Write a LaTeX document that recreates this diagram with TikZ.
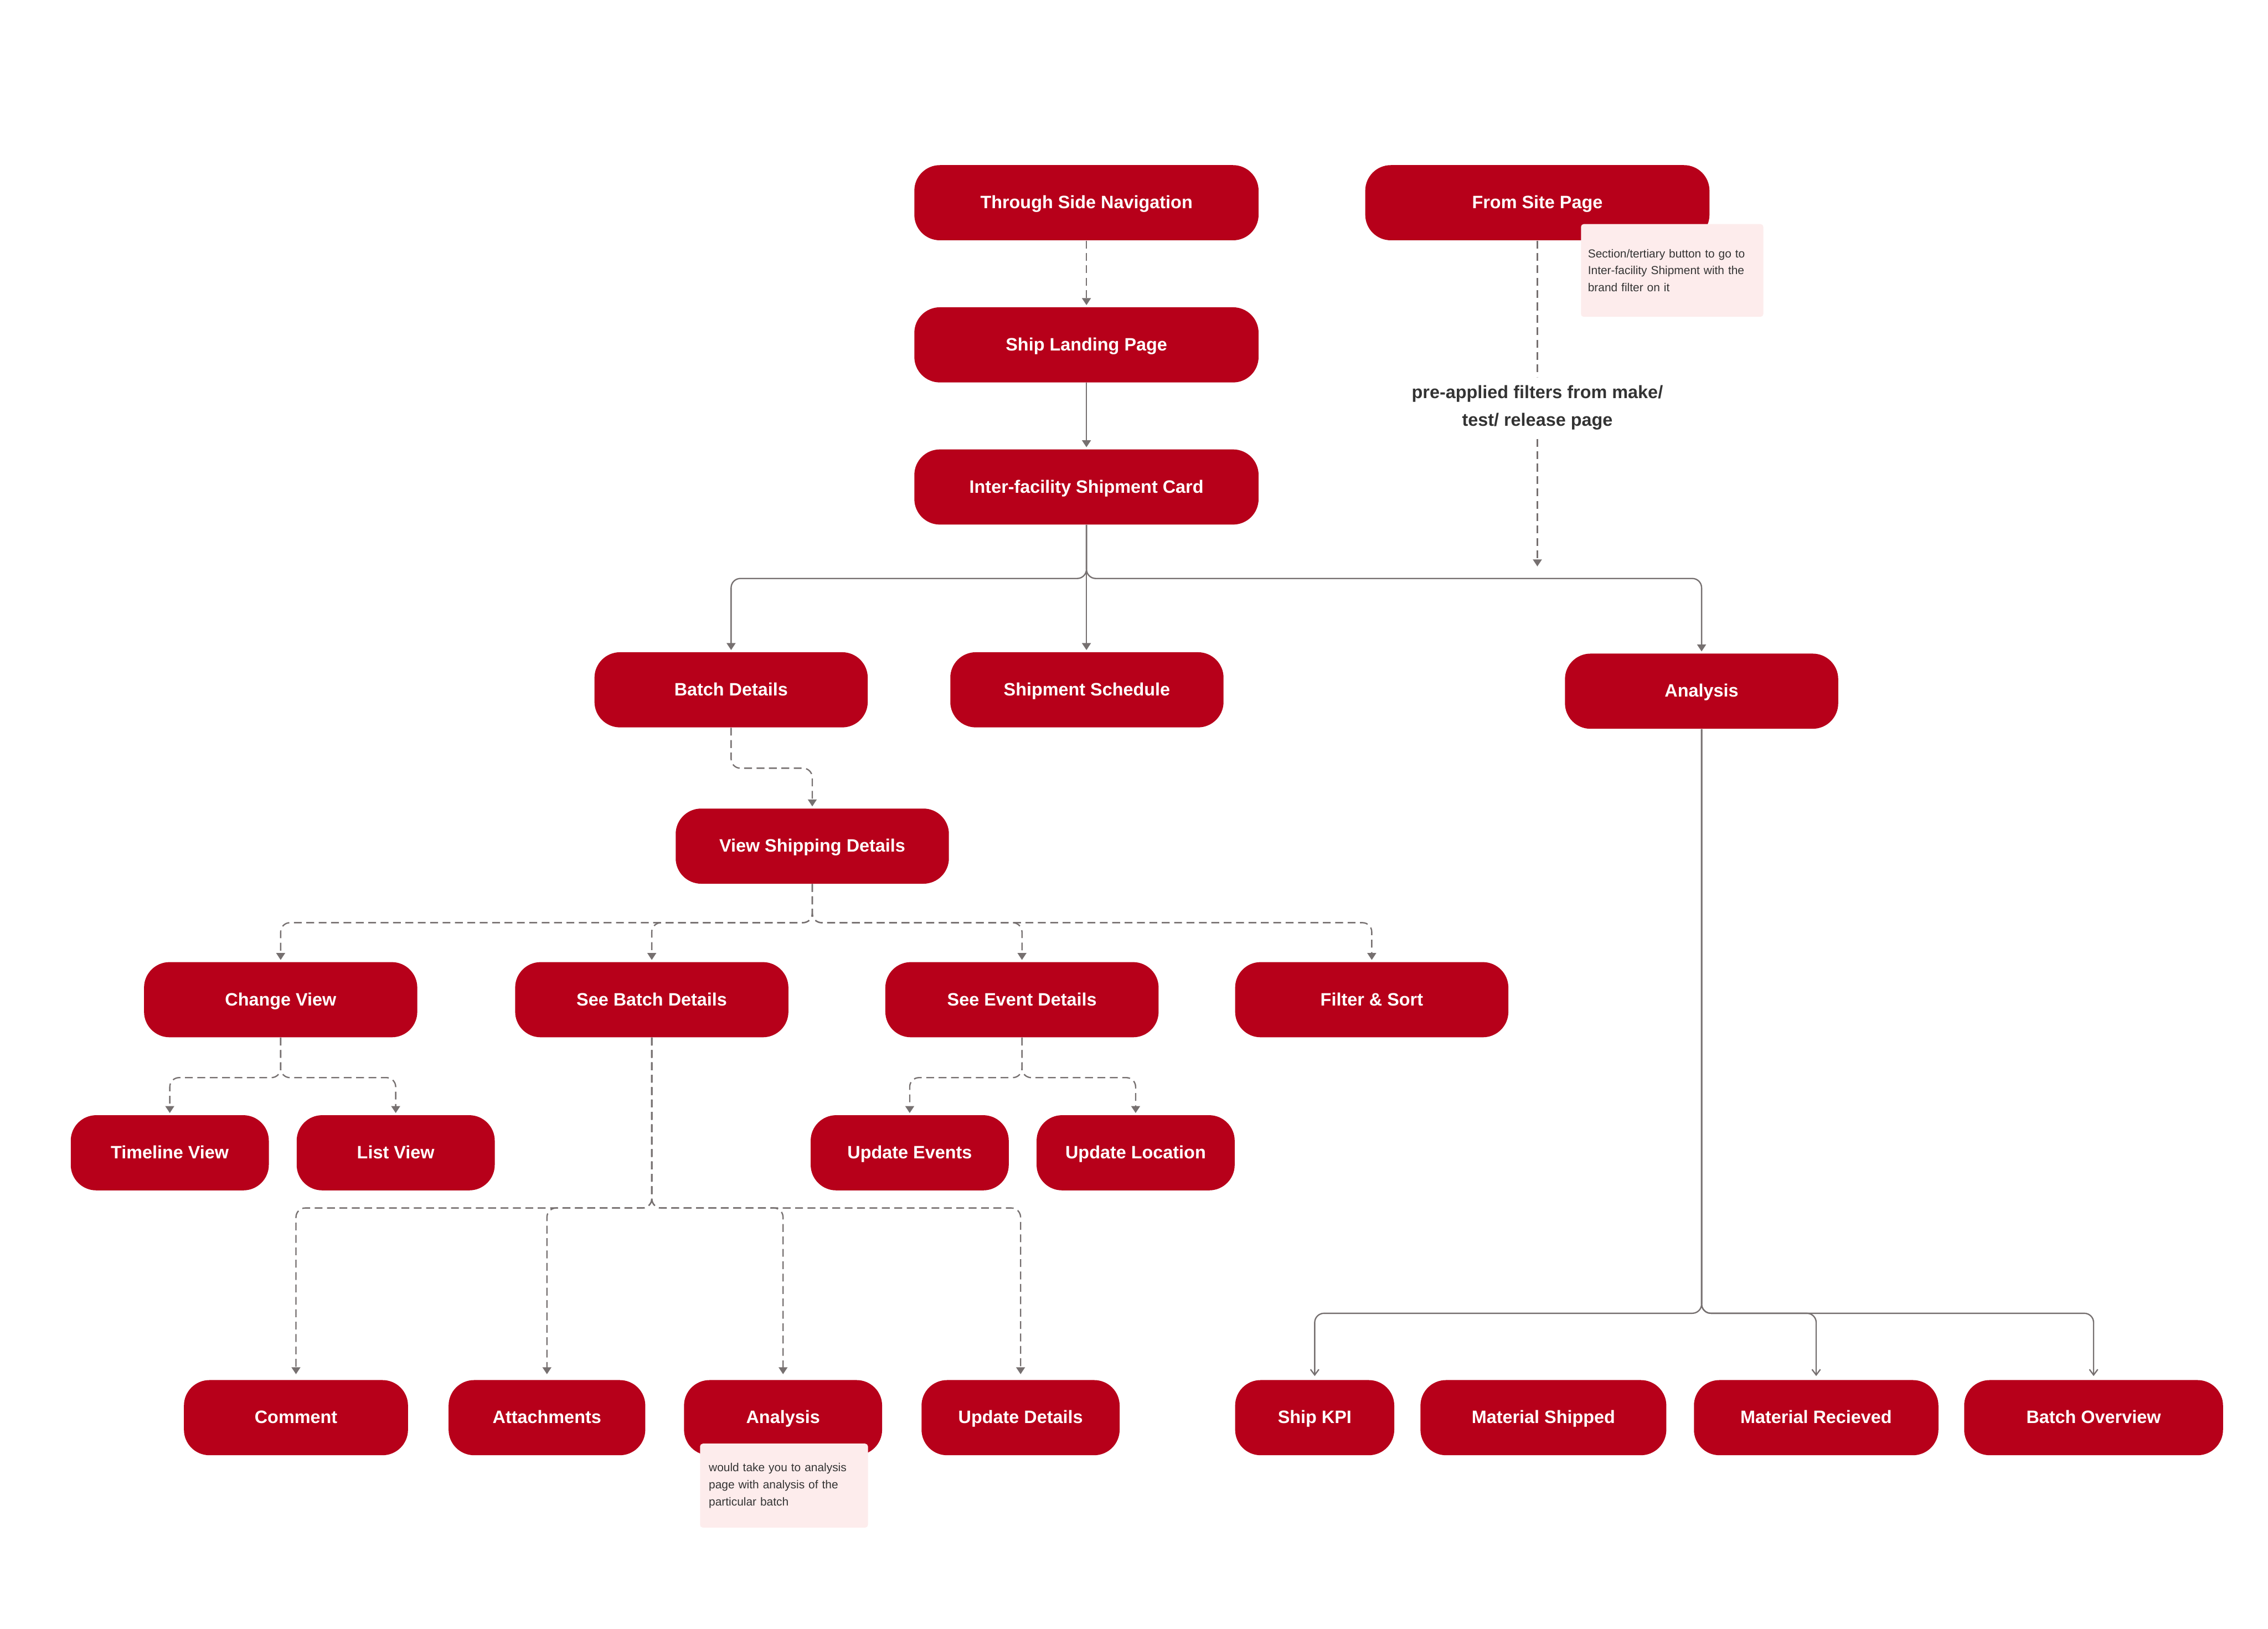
\documentclass[tikz,border=0pt]{standalone}
\usepackage{fontspec}
\setmainfont{Liberation Sans}
\usepackage{xcolor}
\usepackage{tikz}
\usetikzlibrary{arrows.meta, positioning, calc}

\definecolor{brandred}{HTML}{B7001A}
\definecolor{linegray}{HTML}{767070}
\definecolor{notepink}{HTML}{FDECEC}
\definecolor{textdark}{HTML}{333333}

\begin{document}
\begin{tikzpicture}[
    node distance=1.43cm and 1.5cm,
    page/.style={rectangle, rounded corners=0.55cm, fill=brandred, text=white, minimum width=5.89cm, minimum height=1.62cm, text height=0.92em, text depth=0.2em, font=\bfseries\fontsize{11}{13}\selectfont},
    wide/.style={minimum width=7.42cm},
    short/.style={minimum width=4.27cm},
    note/.style={rectangle, rounded corners=0.06cm, fill=notepink, text=textdark, align=left, font=\fontsize{7.1}{10.4}\selectfont},
    arrow/.style={draw=linegray, line width=0.8pt, rounded corners=0.2cm, -{Triangle[width=0.19cm,length=0.15cm]}, shorten >=0.04cm},
    dasharrow/.style={arrow, dash pattern=on 4.8pt off 2.8pt},
    openarrow/.style={draw=linegray, line width=0.8pt, rounded corners=0.2cm, -{Straight Barb[width=0.18cm,length=0.12cm]}, shorten >=0.08cm}
]

\fill[white] (0,0) rectangle (48.89,-35.11);
\useasboundingbox (0,0) rectangle (48.89,-35.11);

% entry points
\node[page, wide] (nav) at (23.42,-4.37) {Through Side Navigation};
\node[page, wide] (site) at (33.14,-4.37) {From Site Page};
\node[page, wide, below=of nav] (landing) {Ship Landing Page};
\node[page, wide, below=of landing] (card) {Inter-facility Shipment Card};

% card sections
\node[page] (batch) at (15.76,-14.87) {Batch Details};
\node[page] (sched) at (23.43,-14.87) {Shipment Schedule};
\node[page] (ana) at (36.68,-14.90) {Analysis};
\node[page] (view) at (17.51,-18.24) {View Shipping Details};

\node[page] (change) at (6.05,-21.55) {Change View};
\node[page] (seebatch) at (14.05,-21.55) {See Batch Details};
\node[page] (seeevent) at (22.03,-21.55) {See Event Details};
\node[page] (filter) at (29.57,-21.55) {Filter \& Sort};

\node[page, short] (timeline) at (3.66,-24.85) {Timeline View};
\node[page, short] (list) at (8.53,-24.85) {List View};
\node[page, short] (upevents) at (19.61,-24.85) {Update Events};
\node[page, short] (uploc) at (24.48,-24.85) {Update Location};

% bottom row
\node[page, minimum width=4.83cm] (comment) at (6.38,-30.56) {Comment};
\node[page, minimum width=4.24cm] (attach) at (11.79,-30.56) {Attachments};
\node[page, short] (anabatch) at (16.88,-30.56) {Analysis};
\node[page, short] (updetails) at (22.00,-30.56) {Update Details};
\node[page, minimum width=3.43cm] (kpi) at (28.34,-30.56) {Ship KPI};
\node[page, minimum width=5.30cm] (shipped) at (33.27,-30.56) {Material Shipped};
\node[page, minimum width=5.27cm] (received) at (39.15,-30.56) {Material Recieved};
\node[page, minimum width=5.58cm] (overview) at (45.13,-30.56) {Batch Overview};

% notes
\node[note, text width=3.63cm, minimum height=2cm, inner xsep=0.15cm] (sitenote) at (36.045,-5.83) {Section/tertiary button to go to\\Inter-facility Shipment with the\\brand filter on it};
\node[note, text width=3.24cm, minimum height=1.81cm, inner xsep=0.19cm] (ananote) at (16.90,-32.025) {would take you to analysis\\page with analysis of the\\particular batch};

% bus levels
\coordinate (busA) at (0,-12.47);
\coordinate (bv) at (0,-16.56);
\coordinate (busB) at (0,-19.89);
\coordinate (busC) at (0,-23.23);
\coordinate (busE) at (0,-26.04);
\coordinate (busF) at (0,-28.31);
\coordinate (filt) at (33.14,-12.25);

\draw[dasharrow] (nav) -- (landing);
\draw[arrow] (landing) -- (card);
\draw[dasharrow] (site.south) -- node[pos=0.51, fill=white, text=textdark, align=center, inner xsep=0.1cm, inner ysep=0.18cm, font=\bfseries\fontsize{11}{16.8}\selectfont] (prelabel) {pre-applied filters from make/\\test/ release page} (filt);

\draw[arrow] (card.south) -- (card.south |- busA) -| (batch.north);
\draw[arrow] (card.south) -- (card.south |- sched.north);
\draw[arrow] (card.south) -- (card.south |- busA) -| (ana.north);

\draw[dasharrow] (batch.south) -- (batch.south |- bv) -| (view.north);

\draw[dasharrow] (view.south) -- (view.south |- busB) -| (change.north);
\draw[dasharrow] (view.south) -- (view.south |- busB) -| (seebatch.north);
\draw[dasharrow] (view.south) -- (view.south |- busB) -| (seeevent.north);
\draw[dasharrow] (view.south) -- (view.south |- busB) -| (filter.north);

\draw[dasharrow] (change.south) -- (change.south |- busC) -| (timeline.north);
\draw[dasharrow] (change.south) -- (change.south |- busC) -| (list.north);
\draw[dasharrow] (seeevent.south) -- (seeevent.south |- busC) -| (upevents.north);
\draw[dasharrow] (seeevent.south) -- (seeevent.south |- busC) -| (uploc.north);

\draw[dasharrow, shorten >=0.12cm] (seebatch.south) -- (seebatch.south |- busE) -| (comment.north);
\draw[dasharrow, shorten >=0.12cm] (seebatch.south) -- (seebatch.south |- busE) -| (attach.north);
\draw[dasharrow, shorten >=0.12cm] (seebatch.south) -- (seebatch.south |- busE) -| (anabatch.north);
\draw[dasharrow, shorten >=0.12cm] (seebatch.south) -- (seebatch.south |- busE) -| (updetails.north);

\draw[openarrow] (ana.south) -- (ana.south |- busF) -| (kpi.north);
\draw[openarrow] (ana.south) -- (ana.south |- busF) -| (received.north);
\draw[openarrow] (ana.south) -- (ana.south |- busF) -| (overview.north);

\end{tikzpicture}
\end{document}
